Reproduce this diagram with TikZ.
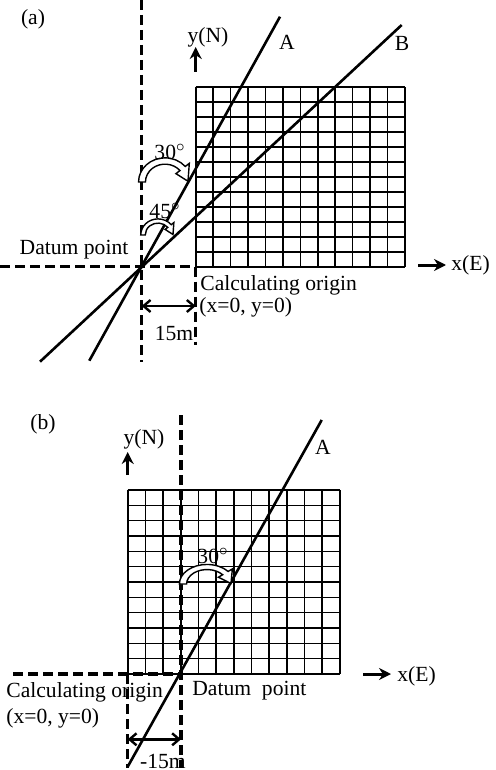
\documentclass[tikz,border=0pt]{standalone}
\usepackage{fontspec}
\setmainfont{Liberation Serif}
\usetikzlibrary{arrows.meta, calc}
\tikzset{
    gridline/.style={line width=0.8pt},
    refline/.style={line width=1.3pt},
    datumline/.style={line width=1.6pt, dash pattern=on 5pt off 2.5pt},
    axisarrow/.style={-{Stealth[length=6pt, width=6pt]}, line width=1.5pt},
    dimarrow/.style={{Straight Barb[length=3.5pt, width=6pt]}-{Straight Barb[length=3.5pt, width=6pt]}, line width=1.2pt},
    lbl/.style={font=\fontsize{10.8}{12}\selectfont, inner sep=0pt},
    bendline/.style={draw, fill=white, line width=0.7pt},
    bendarrow/.pic={
        \path[bendline] (180:1.15) arc[start angle=180, end angle=320, radius=1.15]
            -- (320:1.38) -- (358:1) -- (320:0.62) -- (320:0.85)
            arc[start angle=320, end angle=180, radius=0.85] -- cycle;
    },
}

\begin{document}
\begin{tikzpicture}[x=0.5pt, y=-0.5pt]
    \useasboundingbox (0,0) rectangle (495,770);
    % (a)
    \foreach \i in {0,...,12} {
        \draw[gridline] (195.7+\i*17.44, 87.3) -- (195.7+\i*17.44, 266.7);
        \draw[gridline] (195.7, 87.3+\i*14.95) -- (405, 87.3+\i*14.95);
    }
    \coordinate (dpA) at (141.7,266.7);
    \coordinate (coA) at (195.7,266.7);
    \coordinate (vtopA) at (141.7,0);
    \coordinate (vbotA) at (141.7,361.7);
    \coordinate (hleftA) at (0,266.7);
    \coordinate (gbotA) at (195.7,345);
    \coordinate (topA) at (280,16.7);
    \coordinate (botA) at (89.3,360.7);
    \coordinate (topB) at (401.7,25);
    \coordinate (botB) at (40,361.7);
    \coordinate (dimLA) at (141.7,306);
    \coordinate (dimRA) at (195.7,306);
    \coordinate (yfromA) at (195.7,72);
    \coordinate (ytoA) at (195.7,47);
    \coordinate (xfromA) at (418,265);
    \coordinate (xtoA) at (446,265);
    \draw[datumline] (vtopA) -- (vbotA);
    \draw[datumline] (hleftA) -- (coA);
    \draw[datumline] (coA) -- (gbotA);
    \draw[refline] (botA) -- (topA);
    \draw[refline] (botB) -- (topB);
    \draw[dimarrow] (dimLA) -- (dimRA);
    \draw[axisarrow] (yfromA) -- (ytoA);
    \draw[axisarrow] (xfromA) -- (xtoA);
    \pic[xscale=23, yscale=21] at (165,182) {bendarrow};
    \pic[xscale=15, yscale=14] at (158,235) {bendarrow};
    \node[lbl] (tagA) at (33,19) {(a)};
    \node[lbl] (yA) at (208,37) {y(N)};
    \node[lbl] (labA) at (287,42) {A};
    \node[lbl] (labB) at (402,43) {B};
    \node[lbl] (ang30A) at (170,152) {30$^{\circ}$};
    \node[lbl] (ang45A) at (165,211) {45$^{\circ}$};
    \node[lbl] (datA) at (74,250) {Datum point};
    \node[lbl, anchor=west] (calcA) at (200,285) {Calculating origin};
    \node[lbl, anchor=west] (zeroA) at (199,307) {(x=0, y=0)};
    \node[lbl] (dimA) at (174,333) {15m};
    \node[lbl, anchor=west] (xA) at (451,265) {x(E)};
    % (b)
    \foreach \i in {0,...,12} {
        \draw[gridline] (127.7+\i*17.69, 490) -- (127.7+\i*17.69, 674);
        \draw[gridline] (127.7, 490+\i*15.33) -- (340, 490+\i*15.33);
    }
    \coordinate (dpB) at (181,674);
    \coordinate (coB) at (127.7,674);
    \coordinate (vtopB) at (181,415);
    \coordinate (vbotB) at (181,768);
    \coordinate (hleftB) at (13,674);
    \coordinate (gbotB) at (127.7,768);
    \coordinate (topAb) at (321.7,420);
    \coordinate (botAb) at (127.7,766.7);
    \coordinate (dimLB) at (127.7,739.3);
    \coordinate (dimRB) at (181,739.3);
    \coordinate (yfromB) at (127.7,475);
    \coordinate (ytoB) at (127.7,452);
    \coordinate (xfromB) at (363,674);
    \coordinate (xtoB) at (391,674);
    \draw[datumline] (vtopB) -- (vbotB);
    \draw[datumline] (hleftB) -- (dpB);
    \draw[datumline] (coB) -- (gbotB);
    \draw[refline] (botAb) -- (topAb);
    \draw[dimarrow] (dimLB) -- (dimRB);
    \draw[axisarrow] (yfromB) -- (ytoB);
    \draw[axisarrow] (xfromB) -- (xtoB);
    \pic[xscale=24, yscale=17] at (207,584) {bendarrow};
    \node[lbl] (tagB) at (43,424) {(b)};
    \node[lbl] (yB) at (144,439) {y(N)};
    \node[lbl] (labAb) at (323,447) {A};
    \node[lbl] (ang30B) at (213,556) {30$^{\circ}$};
    \node[lbl, anchor=west] (datB) at (192,691) {Datum\enspace point};
    \node[lbl, anchor=west] (calcB) at (6,692) {Calculating origin};
    \node[lbl, anchor=west] (zeroB) at (6,718) {(x=0, y=0)};
    \node[lbl] (dimB) at (163,761) {-15m};
    \node[lbl, anchor=west] (xB) at (397,676) {x(E)};
\end{tikzpicture}
\end{document}
